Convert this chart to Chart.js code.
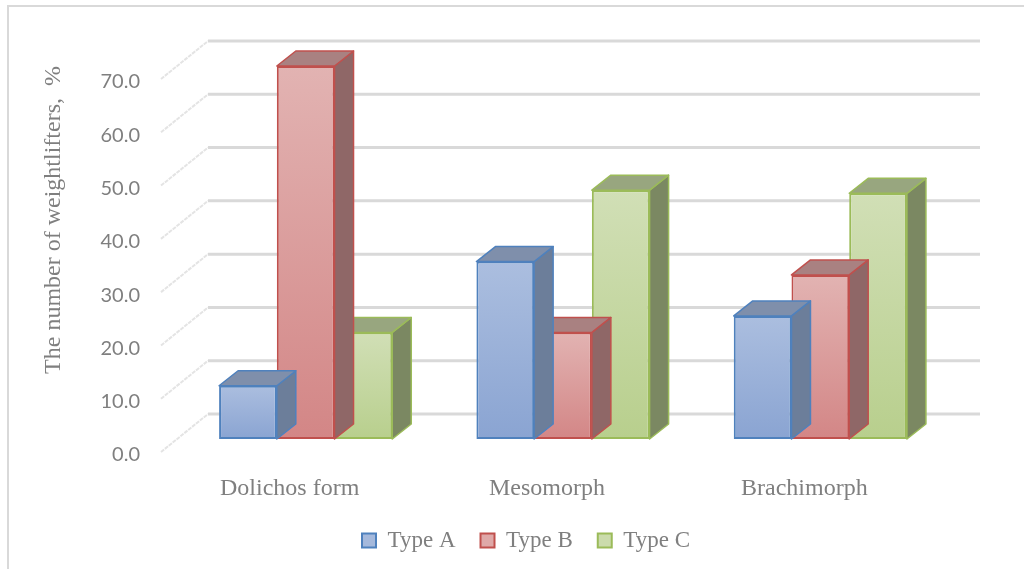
<!DOCTYPE html>
<html>
<head>
<meta charset="utf-8">
<title>Weightlifters by body type</title>
<script src="https://cdn.jsdelivr.net/npm/chart.js@4.4.1/dist/chart.umd.min.js"></script>
<style>
  html, body { margin: 0; padding: 0; background: #ffffff; }
  #wrap { width: 1024px; height: 569px; }
</style>
</head>
<body>
<div id="wrap"><canvas id="chart" width="1024" height="569"></canvas></div>
<script>
// ---- data ----
const categories = ['Dolichos form', 'Mesomorph', 'Brachimorph'];
const seriesNames = ['Type A', 'Type B', 'Type C'];
const typeA = [10, 33.3, 23.1];
const typeB = [70, 20, 30.8];
const typeC = [20, 46.7, 46.1];
const yTicks = [0, 10, 20, 30, 40, 50, 60, 70];

// ---- styles ----
const edgeColors = ['#4f81bd', '#c0504d', '#9bbb59'];
const frontTop = ['#abbedf', '#e2b3b2', '#d1dfb6'];
const frontBottom = ['#8aa4d2', '#d38686', '#b8cf8d'];
const sideColors = ['#6c7e9a', '#8f6767', '#7b8862'];
const topColors = ['#7f8fab', '#a98181', '#98a67f'];
const legendFill = ['#a5b9dc', '#dfa9a8', '#cbdbac'];
const textGrey = '#7f7f7f';

// depth of each bar, and offsets of the back wall / front label plane from the bar face
const BAR_DEPTH = { dx: 19, dy: -15 };
const WALL = { dx: 31, dy: -25 };
const FRONT = { dx: -16, dy: 13 };

function frontFill(i) {
  return (ctx) => {
    const chart = ctx.chart;
    if (!chart.chartArea || ctx.type !== 'data' || !chart.scales.y) return legendFill[i];
    const ys = chart.scales.y;
    const top = ys.getPixelForValue(ctx.parsed ? ctx.parsed.y : 0);
    const base = ys.getPixelForValue(0);
    if (!isFinite(top) || Math.abs(base - top) < 1) return frontBottom[i];
    const g = chart.ctx.createLinearGradient(0, top, 0, base);
    g.addColorStop(0, frontTop[i]);
    g.addColorStop(1, frontBottom[i]);
    return g;
  };
}

// white background and the thin frame
const framePlugin = {
  id: 'frame',
  beforeDraw(chart) {
    const c = chart.ctx;
    c.save();
    c.fillStyle = '#ffffff';
    c.fillRect(0, 0, chart.width, chart.height);
    c.strokeStyle = '#d9d9d9';
    c.lineWidth = 2;
    c.beginPath();
    c.moveTo(8, chart.height);
    c.lineTo(8, 6);
    c.lineTo(chart.width, 6);
    c.stroke();
    c.restore();
  }
};

// back-wall gridlines and the receding side-wall lines
const wallPlugin = {
  id: 'wall',
  beforeDatasetsDraw(chart) {
    const c = chart.ctx;
    const ys = chart.scales.y;
    const area = chart.chartArea;
    c.save();
    yTicks.forEach(v => {
      const y = ys.getPixelForValue(v);
      // side wall line
      c.strokeStyle = '#e4e4e4';
      c.lineWidth = 2;
      c.setLineDash([4, 1]);
      c.beginPath();
      c.moveTo(area.left + FRONT.dx, y + FRONT.dy);
      c.lineTo(area.left + WALL.dx, y + WALL.dy);
      c.stroke();
      // back wall line
      c.setLineDash([]);
      c.strokeStyle = '#d9d9d9';
      c.lineWidth = 3;
      c.beginPath();
      c.moveTo(area.left + WALL.dx, y + WALL.dy);
      c.lineTo(area.right + WALL.dx, y + WALL.dy);
      c.stroke();
    });
    c.restore();
  }
};

// top and right side faces of each bar
const boxPlugin = {
  id: 'box3d',
  afterDatasetDraw(chart, args) {
    const i = args.index;
    const c = chart.ctx;
    const { dx, dy } = BAR_DEPTH;
    c.save();
    c.lineJoin = 'round';
    args.meta.data.forEach(bar => {
      const p = bar.getProps(['x', 'y', 'base', 'width'], true);
      const l = p.x - p.width / 2, r = p.x + p.width / 2;
      const t = Math.min(p.y, p.base), b = Math.max(p.y, p.base);
      c.strokeStyle = edgeColors[i];
      c.lineWidth = 1.5;
      // side
      c.fillStyle = sideColors[i];
      c.beginPath();
      c.moveTo(r, t);
      c.lineTo(r + dx, t + dy);
      c.lineTo(r + dx, b + dy);
      c.lineTo(r, b);
      c.closePath();
      c.fill();
      c.stroke();
      // top
      c.fillStyle = topColors[i];
      c.beginPath();
      c.moveTo(l, t);
      c.lineTo(l + dx, t + dy);
      c.lineTo(r + dx, t + dy);
      c.lineTo(r, t);
      c.closePath();
      c.fill();
      c.stroke();
    });
    c.restore();
  }
};

const seriesValues = [typeA, typeB, typeC];

new Chart(document.getElementById('chart'), {
  type: 'bar',
  data: {
    labels: categories,
    datasets: seriesNames.map((name, i) => ({
      label: name,
      data: seriesValues[i],
      backgroundColor: frontFill(i),
      borderColor: edgeColors[i],
      borderWidth: 2,
      borderSkipped: false,
      barPercentage: 1,
      categoryPercentage: 0.673
    }))
  },
  options: {
    responsive: false,
    devicePixelRatio: 1,
    animation: false,
    layout: { padding: { top: 66, left: 28, right: 0, bottom: 7 } },
    plugins: {
      tooltip: { enabled: false },
      legend: {
        position: 'bottom',
        labels: {
          font: { family: '"Liberation Serif", "Times New Roman", serif', size: 23 },
          color: textGrey,
          boxWidth: 14,
          boxHeight: 14,
          padding: 25,
          generateLabels: (chart) => chart.data.datasets.map((ds, i) => ({
            text: ds.label,
            fillStyle: legendFill[i],
            strokeStyle: edgeColors[i],
            lineWidth: 2,
            fontColor: textGrey,
            hidden: false,
            datasetIndex: i
          }))
        }
      }
    },
    scales: {
      x: {
        grid: { display: false, drawTicks: false },
        border: { display: false },
        ticks: {
          color: textGrey,
          font: { family: '"Liberation Serif", "Times New Roman", serif', size: 24 },
          padding: 35,
          labelOffset: FRONT.dx,
          maxRotation: 0
        },
        afterFit: (s) => { s.height = 65; }
      },
      y: {
        min: 0,
        max: 70,
        grid: { display: false, drawTicks: false },
        border: { display: false },
        ticks: {
          stepSize: 10,
          color: textGrey,
          font: { family: 'Lato, "Liberation Sans", sans-serif', size: 20 },
          padding: 37,
          labelOffset: 16,
          callback: (v) => Number(v).toFixed(1)
        },
        title: {
          display: true,
          text: 'The number of weightlifters,  %',
          color: textGrey,
          align: 'end',
          padding: { top: 11, bottom: 0 },
          font: { family: '"Liberation Serif", "Times New Roman", serif', size: 24 }
        },
        afterFit: (s) => { s.width = 149; }
      },
      // empty margin on the right for the depth of the plot
      margin: {
        type: 'linear',
        position: 'right',
        grid: { display: false, drawTicks: false },
        border: { display: false },
        ticks: { display: false },
        afterFit: (s) => { s.width = 75; }
      }
    }
  },
  plugins: [framePlugin, wallPlugin, boxPlugin]
});
</script>
</body>
</html>
